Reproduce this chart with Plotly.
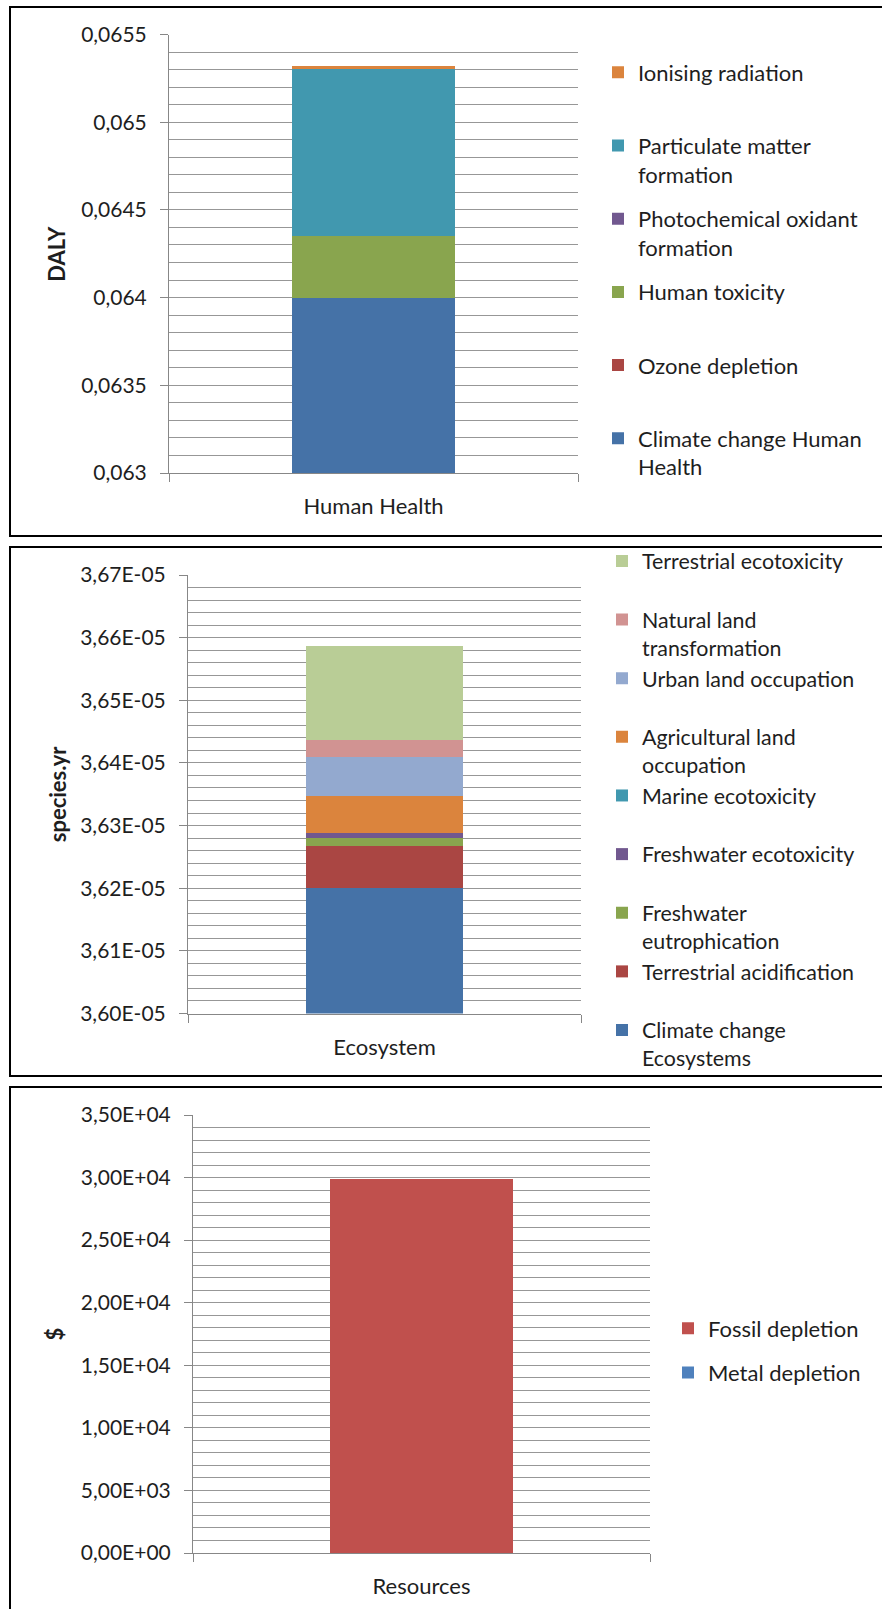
import plotly.graph_objects as go

# ---------------- data ----------------
hh_category = ["Human Health"]
hh_series = ["Climate change Human Health", "Ozone depletion", "Human toxicity",
             "Photochemical oxidant formation", "Particulate matter formation",
             "Ionising radiation"]
hh_labels = ["Climate change Human<br>Health", "Ozone depletion", "Human toxicity",
             "Photochemical oxidant<br>formation", "Particulate matter<br>formation",
             "Ionising radiation"]
hh_values = [0.06400, 0.00000001, 0.00035, 0.00000001, 0.00096, 0.00001]
hh_colors = ["#4572A7", "#AA4643", "#89A54E", "#71588F", "#4198AF", "#DB843D"]
hh_tickvals = [0.063, 0.0635, 0.064, 0.0645, 0.065, 0.0655]
hh_ticktext = ["0,063", "0,0635", "0,064", "0,0645", "0,065", "0,0655"]
hh_unit = "DALY"

eco_category = ["Ecosystem"]
eco_series = ["Climate change Ecosystems", "Terrestrial acidification",
              "Freshwater eutrophication", "Freshwater ecotoxicity", "Marine ecotoxicity",
              "Agricultural land occupation", "Urban land occupation",
              "Natural land transformation", "Terrestrial ecotoxicity"]
eco_labels = ["Climate change<br>Ecosystems", "Terrestrial acidification",
              "Freshwater<br>eutrophication", "Freshwater ecotoxicity", "Marine ecotoxicity",
              "Agricultural land<br>occupation", "Urban land occupation",
              "Natural land<br>transformation", "Terrestrial ecotoxicity"]
eco_values = [3.6200e-05, 6.7e-08, 1.3e-08, 0.88e-08, 0.01e-08, 5.86e-08, 6.14e-08,
              2.85e-08, 15.0e-08]
eco_colors = ["#4572A7", "#AA4643", "#89A54E", "#71588F", "#4198AF", "#DB843D",
              "#93A9CF", "#D19392", "#B9CD96"]
eco_tickvals = [3.60e-05, 3.61e-05, 3.62e-05, 3.63e-05, 3.64e-05, 3.65e-05, 3.66e-05, 3.67e-05]
eco_ticktext = ["3,60E-05", "3,61E-05", "3,62E-05", "3,63E-05", "3,64E-05",
                "3,65E-05", "3,66E-05", "3,67E-05"]
eco_unit = "species.yr"

res_category = ["Resources"]
res_series = ["Metal depletion", "Fossil depletion"]
res_labels = ["Metal depletion", "Fossil depletion"]
res_values = [5, 29895]
res_colors = ["#4F81BD", "#C0504D"]
res_tickvals = [0, 5000, 10000, 15000, 20000, 25000, 30000, 35000]
res_ticktext = ["0,00E+00", "5,00E+03", "1,00E+04", "1,50E+04", "2,00E+04",
                "2,50E+04", "3,00E+04", "3,50E+04"]
res_unit = "$"

# ---------------- layout helpers ----------------
W, H = 882, 1609
FONT = "Lato"
TXT = "#1e1e1e"
GRID = "#979797"
AXL = "#878787"
LEG_FS = 22
TICK_FS = 21


def px_x(v):
    return v / W


def px_y(v):
    return (H - v) / H


fig = go.Figure()

panels = [
    (hh_category, hh_series, hh_labels, hh_values, hh_colors, "legend", "x", "y", True),
    (eco_category, eco_series, eco_labels, eco_values, eco_colors, "legend2", "x2", "y2", True),
    (res_category, res_series, res_labels, res_values, res_colors, "legend3", "x3", "y3", False),
]

for cats, series, labels, vals, cols, leg, xa, ya, pad in panels:
    n = len(series)
    for i, (s, lab, v, c) in enumerate(zip(series, labels, vals, cols)):
        name = lab if ("<br>" in lab or not pad) else lab + "<br> "
        fig.add_trace(go.Bar(
            x=cats, y=[v], name=name, marker=dict(color=c, line=dict(width=0)),
            legend=leg, legendgroup=leg + s, legendrank=n - i, xaxis=xa, yaxis=ya,
            hovertemplate=s + ": %{y}<extra></extra>",
        ))


def xaxis(dom, anchor):
    return dict(domain=dom, anchor=anchor, type="category", range=[-0.5, 0.5],
                tickson="boundaries", ticks="outside", ticklen=8, tickcolor=AXL,
                showline=True, linecolor=AXL, linewidth=1, showgrid=False,
                ticklabelstandoff=14, automargin=False,
                tickfont=dict(family=FONT, size=LEG_FS, color=TXT), fixedrange=True)


def yaxis(dom, anchor, rng, tv, tt, minor_dtick):
    return dict(domain=dom, anchor=anchor, range=rng, tickmode="array",
                tickvals=tv, ticktext=tt, ticks="outside", ticklen=8, tickcolor=AXL,
                showline=True, linecolor=AXL, linewidth=1, zeroline=False,
                showgrid=True, gridcolor=GRID, gridwidth=1, automargin=False,
                ticklabelstandoff=9,
                minor=dict(tickmode="linear", tick0=rng[0], dtick=minor_dtick,
                           showgrid=True, gridcolor=GRID, gridwidth=1, ticks=""),
                tickfont=dict(family=FONT, size=TICK_FS, color=TXT),
                fixedrange=True)


def legend(xpx, ypx, gap, fs):
    return dict(x=px_x(xpx), y=px_y(ypx), xanchor="left", yanchor="top",
                traceorder="grouped", tracegroupgap=gap, valign="top",
                bgcolor="rgba(0,0,0,0)", font=dict(family=FONT, size=fs, color=TXT))


fig.update_layout(
    template="none",
    width=W, height=H, margin=dict(l=0, r=0, t=0, b=0, pad=0, autoexpand=False),
    paper_bgcolor="white", plot_bgcolor="white",
    barmode="stack", bargap=0.6, separators=",.",
    font=dict(family=FONT, size=TICK_FS, color=TXT),
    xaxis=xaxis([px_x(169), px_x(578)], "y"),
    yaxis=yaxis([px_y(473), px_y(34.5)], "x", [0.063, 0.0655], hh_tickvals, hh_ticktext,
                0.0001),
    xaxis2=xaxis([px_x(188), px_x(581)], "y2"),
    yaxis2=yaxis([px_y(1013.5), px_y(575)], "x2", [3.60e-05, 3.67e-05], eco_tickvals,
                 eco_ticktext, 2e-08),
    xaxis3=xaxis([px_x(193), px_x(650)], "y3"),
    yaxis3=yaxis([px_y(1553), px_y(1115)], "x3", [0, 35000], res_tickvals, res_ticktext,
                 1000),
    legend=legend(598, 51.5, 13, LEG_FS),
    legend2=legend(602, 540.5, 0, 21.4),
    legend3=legend(668, 1307.5, 12.5, LEG_FS),
    showlegend=True,
)

# y-axis unit titles (rotated), placed beside each value axis
for unit, xc, ytop, ybot in [(hh_unit, 57, 34.5, 473), (eco_unit, 57, 575, 1013.5),
                              (res_unit, 53.5, 1115, 1553)]:
    fig.add_annotation(text="<b>" + unit + "</b>", xref="paper", yref="paper",
                       x=px_x(xc), y=px_y((ytop + ybot) / 2), xanchor="center",
                       yanchor="middle", textangle=-90, showarrow=False,
                       font=dict(family=FONT, size=22, color=TXT))

# panel frames
frames = [(10, 7, 1.02, 536), (10, 547, 1.02, 1076), (10, 1087, 1.02, None)]
for x0, y0, x1, y1 in frames:
    fig.add_shape(type="rect", xref="paper", yref="paper",
                  x0=px_x(x0), x1=x1, y0=px_y(y0), y1=(px_y(y1) if y1 else -0.02),
                  line=dict(color="black", width=2), fillcolor="rgba(0,0,0,0)", layer="above")

fig.write_html("out.html", config={"displayModeBar": False},
               post_script="document.body.style.margin='0';")
